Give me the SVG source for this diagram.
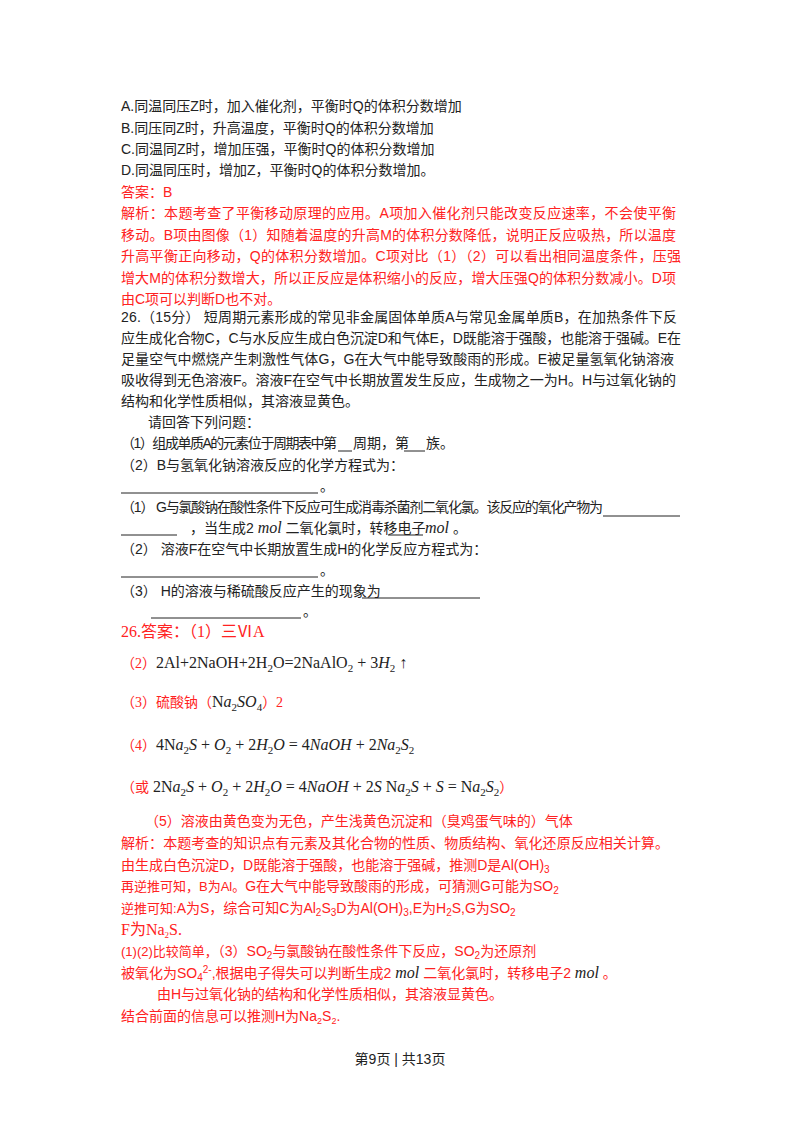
<svg xmlns="http://www.w3.org/2000/svg" width="800" height="1132" viewBox="0 0 800 1132">
<style>
text{font-family:"Liberation Sans","Noto Sans CJK SC",sans-serif;font-size:14px;fill:#222}
.r{fill:#f22}
.s{font-family:"Liberation Serif","Noto Sans CJK SC",serif;font-size:16px}
.i{font-style:italic}
.u{stroke:#222;stroke-width:1}
</style>
<rect width="800" height="1132" fill="#fff"/>
<text x="121" y="111">A.同温同压Z时，加入催化剂，平衡时Q的体积分数增加</text>
<text x="121" y="133">B.同压同Z时，升高温度，平衡时Q的体积分数增加</text>
<text x="121" y="154">C.同温同Z时，增加压强，平衡时Q的体积分数增加</text>
<text x="121" y="175">D.同温同压时，增加Z，平衡时Q的体积分数增加。</text>
<text class="r" x="121" y="197">答案：B</text>
<text class="r" x="121" y="218" textLength="555">解析：本题考查了平衡移动原理的应用。A项加入催化剂只能改变反应速率，不会使平衡</text>
<text class="r" x="121" y="240" textLength="555">移动。B项由图像（1）知随着温度的升高M的体积分数降低，说明正反应吸热，所以温度</text>
<text class="r" x="121" y="261" textLength="560">升高平衡正向移动，Q的体积分数增加。C项对比（1）（2）可以看出相同温度条件，压强</text>
<text class="r" x="121" y="283" textLength="555">增大M的体积分数增大，所以正反应是体积缩小的反应，增大压强Q的体积分数减小。D项</text>
<text class="r" x="121" y="304">由C项可以判断D也不对。</text>
<text x="121" y="322" textLength="556">26.（15分）  短周期元素形成的常见非金属固体单质A与常见金属单质B，在加热条件下反</text>
<text x="121" y="343" textLength="560">应生成化合物C，C与水反应生成白色沉淀D和气体E，D既能溶于强酸，也能溶于强碱。E在</text>
<text x="121" y="364" textLength="553">足量空气中燃烧产生刺激性气体G，G在大气中能导致酸雨的形成。E被足量氢氧化钠溶液</text>
<text x="121" y="385" textLength="555">吸收得到无色溶液F。溶液F在空气中长期放置发生反应，生成物之一为H。H与过氧化钠的</text>
<text x="121" y="406">结构和化学性质相似，其溶液显黄色。</text>
<text x="148" y="427">请回答下列问题：</text>
<text x="121" y="448" textLength="216">（1）组成单质A的元素位于周期表中第</text>
<text x="353" y="448">周期，第</text><text x="426" y="448">族。</text>
<line class="u" x1="338" y1="451" x2="352" y2="451"/><line class="u" x1="404" y1="451" x2="425" y2="451"/>
<text x="121" y="470">（2）B与氢氧化钠溶液反应的化学方程式为：</text>
<line class="u" x1="121" y1="493" x2="318" y2="493"/><text x="320" y="491" font-size="10">。</text>
<text x="121" y="512" textLength="482">（1）   G与氯酸钠在酸性条件下反应可生成消毒杀菌剂二氧化氯。该反应的氧化产物为</text>
<line class="u" x1="603" y1="516" x2="680" y2="516"/>
<line class="u" x1="121" y1="535" x2="177" y2="535"/>
<text x="190" y="533">，当生成2 <tspan class="s i">mol</tspan> 二氧化氯时，转移电子</text>
<text x="425" y="533"><tspan class="s i">mol</tspan> 。</text>
<line class="u" x1="388" y1="535" x2="423" y2="535"/>
<text x="121" y="554">（2）   溶液F在空气中长期放置生成H的化学反应方程式为：</text>
<line class="u" x1="121" y1="577" x2="318" y2="577"/><text x="320" y="575" font-size="10">。</text>
<text x="121" y="596">（3）   H的溶液与稀硫酸反应产生的现象为</text>
<line class="u" x1="362" y1="598" x2="480" y2="598"/>
<line class="u" x1="151" y1="618" x2="301" y2="618"/><text x="303" y="616" font-size="10">。</text>
<text class="r s" x="121" y="637" font-size="14">26.答案：（1）三ⅥA</text>
<text class="s" x="121" y="668"><tspan class="r" font-size="14">（2）</tspan>2Al+2NaOH+2H<tspan font-size="11" dy="4">2</tspan><tspan dy="-4">O=2NaAlO</tspan><tspan font-size="11" dy="4">2</tspan><tspan dy="-4"> + 3</tspan><tspan class="i">H</tspan><tspan font-size="11" dy="4">2</tspan><tspan dy="-4"> ↑</tspan></text>
<text class="s" x="121" y="707"><tspan class="r" font-size="14">（3）硫酸钠（</tspan>N<tspan class="i">a</tspan><tspan font-size="11" dy="4">2</tspan><tspan class="i" dy="-4">SO</tspan><tspan font-size="11" dy="4">4</tspan><tspan class="r" font-size="14" dy="-4">）2</tspan></text>
<text class="s" x="121" y="750"><tspan class="r" font-size="14">（4）</tspan>4N<tspan class="i">a</tspan><tspan font-size="11" dy="4">2</tspan><tspan class="i" dy="-4">S</tspan> + <tspan class="i">O</tspan><tspan font-size="11" dy="4">2</tspan><tspan dy="-4"> + 2</tspan><tspan class="i">H</tspan><tspan font-size="11" dy="4">2</tspan><tspan class="i" dy="-4">O</tspan> = 4<tspan class="i">NaOH</tspan> + 2<tspan class="i">Na</tspan><tspan font-size="11" dy="4">2</tspan><tspan class="i" dy="-4">S</tspan><tspan font-size="11" dy="4">2</tspan></text>
<text class="s" x="121" y="792"><tspan class="r" font-size="14">（或</tspan> 2N<tspan class="i">a</tspan><tspan font-size="11" dy="4">2</tspan><tspan class="i" dy="-4">S</tspan> + <tspan class="i">O</tspan><tspan font-size="11" dy="4">2</tspan><tspan dy="-4"> + 2</tspan><tspan class="i">H</tspan><tspan font-size="11" dy="4">2</tspan><tspan class="i" dy="-4">O</tspan> = 4<tspan class="i">NaOH</tspan> + 2<tspan class="i">S</tspan>  N<tspan class="i">a</tspan><tspan font-size="11" dy="4">2</tspan><tspan class="i" dy="-4">S</tspan> + <tspan class="i">S</tspan> = N<tspan class="i">a</tspan><tspan font-size="11" dy="4">2</tspan><tspan class="i" dy="-4">S</tspan><tspan font-size="11" dy="4">2</tspan><tspan class="r" font-size="14" dy="-4">）</tspan></text>
<text class="r" x="145" y="826">（5）溶液由黄色变为无色，产生浅黄色沉淀和（臭鸡蛋气味的）气体</text>
<text class="r" x="121" y="848" textLength="548" font-size="13">解析：本题考查的知识点有元素及其化合物的性质、物质结构、氧化还原反应相关计算。</text>
<text class="r" x="121" y="870">由生成白色沉淀D，D既能溶于强酸，也能溶于强碱，推测D是Al(OH)<tspan font-size="10" dy="3">3</tspan></text>
<text class="r" x="121" y="891"><tspan font-size="13">再逆推可知，B为Al。</tspan>G在大气中能导致酸雨的形成，可猜测G可能为SO<tspan font-size="10" dy="3">2</tspan></text>
<text class="r" x="121" y="913"><tspan font-size="13">逆推可知:</tspan>A为S，综合可知C为Al<tspan font-size="10" dy="3">2</tspan><tspan dy="-3">S</tspan><tspan font-size="10" dy="3">3</tspan><tspan dy="-3">D为Al(OH)</tspan><tspan font-size="10" dy="3">3</tspan><tspan dy="-3">,E为H</tspan><tspan font-size="10" dy="3">2</tspan><tspan dy="-3">S,G为SO</tspan><tspan font-size="10" dy="3">2</tspan></text>
<text class="r s" x="121" y="935" font-size="13">F为Na<tspan font-size="9" dy="3">2</tspan><tspan dy="-3">S.</tspan></text>
<text class="r" x="121" y="956"><tspan font-size="13">(1)(2)比较简单，</tspan>（3）SO<tspan font-size="10" dy="3">2</tspan><tspan dy="-3">与氯酸钠在酸性条件下反应，SO</tspan><tspan font-size="10" dy="3">2</tspan><tspan dy="-3">为还原剂</tspan></text>
<text class="r" x="121" y="978">被氧化为SO<tspan font-size="10" dy="3">4</tspan><tspan font-size="10" dy="-8">2-</tspan><tspan dy="5">,根据电子得失可以判断生成2 </tspan><tspan class="s i" fill="#222">mol</tspan> 二氧化氯时，转移电子2 <tspan class="s i" fill="#222">mol</tspan> 。</text>
<text class="r" x="157" y="999">由H与过氧化钠的结构和化学性质相似，其溶液显黄色。</text>
<text class="r" x="121" y="1021" font-size="13">结合前面的信息可以推测H为Na<tspan font-size="9" dy="3">2</tspan><tspan dy="-3">S</tspan><tspan font-size="9" dy="3">2</tspan><tspan dy="-3">.</tspan></text>
<text x="400" y="1064" text-anchor="middle" font-size="13">第9页 | 共13页</text>
</svg>
